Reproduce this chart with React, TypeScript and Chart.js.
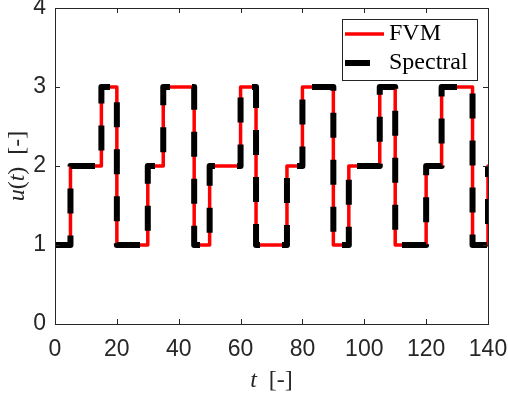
import React, { useEffect, useRef } from "react";
import { Chart, registerables } from "chart.js";

Chart.register(...registerables);

// Switching times of the piecewise-constant signal and the level held from each time on
const switchTimes = [0, 5, 15, 20, 30, 35, 45, 50, 60, 65, 75, 80, 90, 95, 105, 110, 120, 125, 135, 140];
const fvmLevels = [1, 2, 3, 1, 2, 3, 1, 2, 3, 1, 2, 3, 1, 2, 3, 1, 2, 3, 1, 2];
const spectralLevels = [1, 2, 3, 1, 2, 3, 1, 2, 3, 1, 2, 3, 1, 2, 3, 1, 2, 3, 1, 2];
const seriesNames = ["FVM", "Spectral"];
const xTickValues = [0, 20, 40, 60, 80, 100, 120, 140];
const yTickValues = [0, 1, 2, 3, 4];

function stepPoints(times: number[], levels: number[]) {
  const pts: { x: number; y: number }[] = [];
  for (let i = 0; i < times.length; i++) {
    if (i > 0) pts.push({ x: times[i], y: levels[i - 1] });
    pts.push({ x: times[i], y: levels[i] });
  }
  return pts;
}

const AXIS_COLOR = "#262626";
const SERIF = "'Liberation Serif', 'Times New Roman', serif";
const SANS = "'Liberation Sans', Arial, sans-serif";
const DASH = [25, 22];

const frameTicksPlugin = {
  id: "frameTicks",
  afterDraw(chart: any) {
    const { ctx, chartArea: a, scales } = chart;
    ctx.save();
    ctx.strokeStyle = AXIS_COLOR;
    ctx.lineWidth = 1;
    ctx.strokeRect(Math.round(a.left) + 0.5, Math.round(a.top) + 0.5, Math.round(a.right - a.left), Math.round(a.bottom - a.top));
    const tl = 5;
    ctx.beginPath();
    xTickValues.forEach((v) => {
      const px = Math.round(scales.x.getPixelForValue(v)) + 0.5;
      ctx.moveTo(px, a.bottom);
      ctx.lineTo(px, a.bottom - tl);
      ctx.moveTo(px, a.top);
      ctx.lineTo(px, a.top + tl);
    });
    yTickValues.forEach((v) => {
      const py = Math.round(scales.y.getPixelForValue(v)) + 0.5;
      ctx.moveTo(a.left, py);
      ctx.lineTo(a.left + tl, py);
      ctx.moveTo(a.right, py);
      ctx.lineTo(a.right - tl, py);
    });
    ctx.stroke();

    // Axis titles (LaTeX-like: italic variables, upright brackets)
    const drawParts = (parts: { t: string; it: boolean }[], cx: number, cy: number, rot: number) => {
      ctx.save();
      ctx.translate(cx, cy);
      ctx.rotate(rot);
      ctx.fillStyle = AXIS_COLOR;
      ctx.textBaseline = "middle";
      ctx.textAlign = "left";
      const size = 24;
      let total = 0;
      const widths = parts.map((p) => {
        ctx.font = `${p.it ? "italic " : ""}${size}px ${SERIF}`;
        const w = ctx.measureText(p.t).width;
        total += w;
        return w;
      });
      let x = -total / 2;
      parts.forEach((p, i) => {
        ctx.font = `${p.it ? "italic " : ""}${size}px ${SERIF}`;
        ctx.fillText(p.t, x, 0);
        x += widths[i];
      });
      ctx.restore();
    };
    drawParts([{ t: "t", it: true }, { t: "  [-]", it: false }], (a.left + a.right) / 2, 381, 0);
    drawParts(
      [
        { t: "u", it: true },
        { t: "(", it: false },
        { t: "t", it: true },
        { t: ")  [-]", it: false },
      ],
      18,
      (a.top + a.bottom) / 2,
      -Math.PI / 2
    );

    // Legend (north-east, boxed)
    const bx = 342.5, by = 19.5, bw = 135, bh = 61;
    ctx.fillStyle = "#ffffff";
    ctx.fillRect(bx, by, bw, bh);
    ctx.strokeStyle = AXIS_COLOR;
    ctx.lineWidth = 1;
    ctx.strokeRect(bx, by, bw, bh);
    const rows = [34, 63];
    chart.data.datasets.forEach((ds: any, i: number) => {
      const y = rows[i];
      ctx.save();
      ctx.strokeStyle = ds.borderColor;
      ctx.lineWidth = ds.borderWidth;
      ctx.lineCap = "butt";
      ctx.setLineDash(ds.borderDash || []);
      ctx.beginPath();
      ctx.moveTo(345, y);
      ctx.lineTo(384, y);
      ctx.stroke();
      ctx.restore();
      ctx.fillStyle = "#000000";
      ctx.font = `24px ${SERIF}`;
      ctx.textBaseline = "middle";
      ctx.textAlign = "left";
      ctx.fillText(ds.label, 389, y);
    });
    ctx.restore();
  },
};

const zeroPad = (s: any) => {
  s.paddingLeft = 0;
  s.paddingRight = 0;
  s.paddingTop = 0;
  s.paddingBottom = 0;
};

export default function App() {
  const ref = useRef<HTMLCanvasElement | null>(null);
  useEffect(() => {
    if (!ref.current) return;
    const chart = new Chart(ref.current, {
      type: "line",
      data: {
        datasets: [
          {
            label: seriesNames[0],
            data: stepPoints(switchTimes, fvmLevels),
            borderColor: "#ff0000",
            borderWidth: 3.5,
            borderJoinStyle: "round",
            borderCapStyle: "round",
            pointRadius: 0,
            tension: 0,
            order: 1,
          },
          {
            label: seriesNames[1],
            data: stepPoints(switchTimes, spectralLevels),
            borderColor: "#000000",
            borderWidth: 6,
            borderDash: DASH,
            borderJoinStyle: "round",
            borderCapStyle: "butt",
            pointRadius: 0,
            tension: 0,
            order: 0,
          },
        ],
      },
      options: {
        responsive: false,
        animation: false,
        events: [],
        layout: { padding: { top: 8, right: 20, left: 0, bottom: 0 } },
        plugins: { legend: { display: false }, tooltip: { enabled: false } },
        scales: {
          x: {
            type: "linear",
            min: 0,
            max: 140,
            afterFit: (s: any) => {
              s.height = 71;
              zeroPad(s);
            },
            afterBuildTicks: (s: any) => {
              s.ticks = xTickValues.map((v) => ({ value: v }));
            },
            grid: { display: false, drawTicks: false },
            border: { display: false },
            ticks: {
              color: AXIS_COLOR,
              font: { family: SANS, size: 23 },
              padding: 12,
              maxRotation: 0,
            },
          },
          y: {
            type: "linear",
            min: 0,
            max: 4,
            afterFit: (s: any) => {
              s.width = 55;
              zeroPad(s);
            },
            afterBuildTicks: (s: any) => {
              s.ticks = yTickValues.map((v) => ({ value: v }));
            },
            grid: { display: false, drawTicks: false },
            border: { display: false },
            ticks: {
              color: AXIS_COLOR,
              font: { family: SANS, size: 23 },
              padding: 9,
            },
          },
        },
      },
      plugins: [frameTicksPlugin],
    } as any);
    return () => chart.destroy();
  }, []);
  return (
    <div style={{ position: "fixed", left: 0, top: 0, width: 508, height: 395, background: "#ffffff" }}>
      <canvas ref={ref} width={508} height={395} />
    </div>
  );
}
